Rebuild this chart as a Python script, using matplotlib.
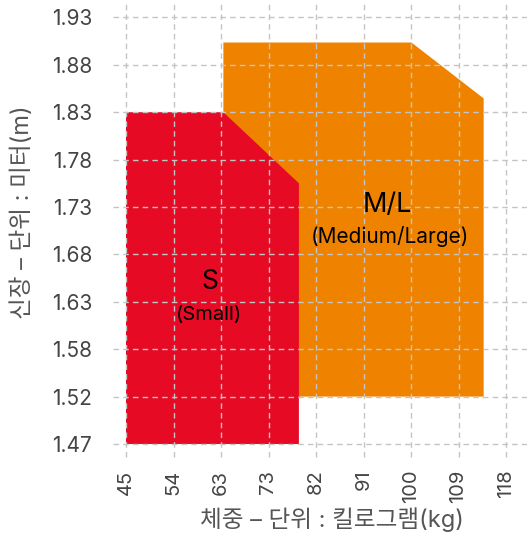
import matplotlib.pyplot as plt
from matplotlib.patches import Polygon

plt.rcParams['font.family'] = ['Inter', 'Noto Sans CJK KR', 'DejaVu Sans']

# tick labels (evenly spaced categories)
weight_labels = ['45', '54', '63', '73', '82', '91', '100', '109', '118']
height_labels = ['1.47', '1.52', '1.58', '1.63', '1.68', '1.73', '1.78', '1.83', '1.88', '1.93']

# size regions, in tick-index units (x: weight, y: height)
small_x = [0, 0, 2.05, 3.64, 3.64]
small_y = [0, 7, 7, 5.5, 0]
medium_x = [2.05, 6.01, 7.53, 7.53, 2.05]
medium_y = [8.47, 8.47, 7.29, 1.0, 1.0]

red = '#e60a24'
orange = '#ef8300'
grid_c = '#c4c4c4'

fig = plt.figure(figsize=(5.27, 5.45), dpi=100)
ax = fig.add_axes([126 / 527, 101 / 545, 1 - 126 / 527, 444 / 545])

ax.add_patch(Polygon(list(zip(medium_x, medium_y)), closed=True, fc=orange, ec='none', zorder=1))
ax.add_patch(Polygon(list(zip(small_x, small_y)), closed=True, fc=red, ec='none', zorder=2))

xmax = (527 - 126) / 47.5
ymax = 444 / 47.4
ax.set_xlim(0, xmax)
ax.set_ylim(0, ymax)

# dashed grid that runs out past the axes like ticks
ext = 13 / 47.5
for i in range(len(weight_labels)):
    ax.plot([i, i], [-ext, ymax], ls=(0, (4, 3)), lw=1, color=grid_c, clip_on=False, zorder=3)
for j in range(len(height_labels)):
    ax.plot([-ext, xmax], [j, j], ls=(0, (4, 3)), lw=1, color=grid_c, clip_on=False, zorder=3)

ax.set_xticks(range(len(weight_labels)))
ax.set_xticklabels(weight_labels, rotation=90, fontsize=14.5, color='#444444')
ax.set_yticks(range(len(height_labels)))
ax.set_yticklabels(height_labels, fontsize=15, color='#444444')
ax.tick_params(axis='x', length=0, pad=18.5)
ax.tick_params(axis='y', length=0, pad=24.5)
for s in ax.spines.values():
    s.set_visible(False)

ax.set_xlabel('체중 – 단위 : 킬로그램(kg)', fontsize=17, color='#555555')
ax.set_ylabel('신장 – 단위 : 미터(m)', fontsize=17, color='#555555')
ax.xaxis.label.set_va('center')
ax.yaxis.label.set_va('center')
ax.xaxis.set_label_coords(0.514, -0.171)
ax.yaxis.set_label_coords(-0.257, 0.5225)

ax.text(1.76, 3.41, 'S', ha='center', va='center', fontsize=19, color='black', zorder=4)
ax.text(1.74, 2.73, '(Small)', ha='center', va='center', fontsize=14.5, color='black', zorder=4)
ax.text(5.50, 5.04, 'M/L', ha='center', va='center', fontsize=19.5, color='black', zorder=4)
ax.text(5.56, 4.37, '(Medium/Large)', ha='center', va='center', fontsize=15, color='black', zorder=4)

fig.savefig('out.png', dpi=100)
